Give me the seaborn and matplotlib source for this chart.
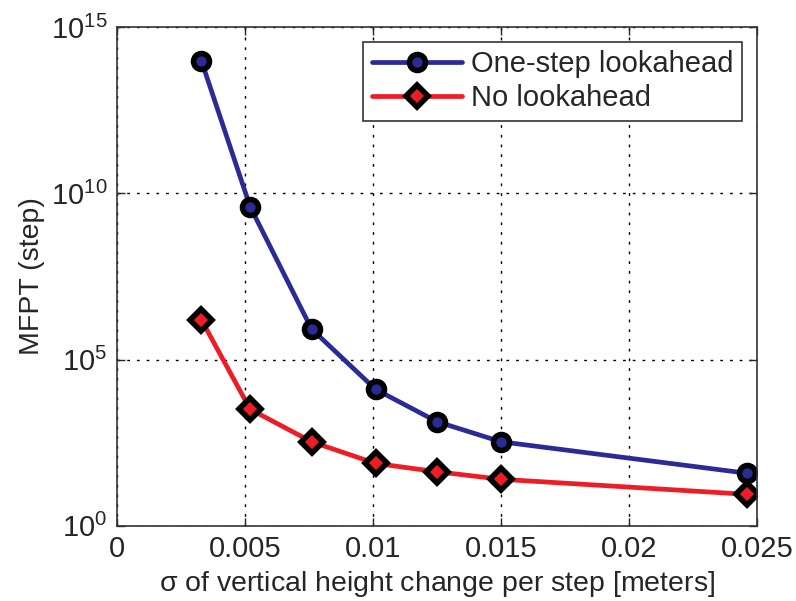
import numpy as np
import pandas as pd
import matplotlib
matplotlib.use('Agg')
import matplotlib.pyplot as plt
from matplotlib.lines import Line2D
import seaborn as sns

# --- data ---
sigma = [0.0033, 0.0052, 0.0076, 0.0101, 0.0125, 0.0150, 0.0246]
mfpt_lookahead = [9.6e13, 4.0e9, 8.3e5, 1.27e4, 1.35e3, 336, 38]
mfpt_no_lookahead = [1.55e6, 3.2e3, 336, 75, 42, 25, 8.8]
series_names = ['One-step lookahead', 'No lookahead']

blue = '#2b2b98'
red = '#ee1c25'

df = pd.concat([
    pd.DataFrame({'sigma': sigma, 'MFPT': mfpt_lookahead, 'Method': series_names[0]}),
    pd.DataFrame({'sigma': sigma, 'MFPT': mfpt_no_lookahead, 'Method': series_names[1]}),
])

sns.set_style('ticks')
plt.rcParams['font.family'] = ['Liberation Sans', 'DejaVu Sans']
plt.rcParams['mathtext.fontset'] = 'custom'
plt.rcParams['mathtext.rm'] = 'Liberation Sans'
plt.rcParams['mathtext.it'] = 'Liberation Sans'

fig = plt.figure(figsize=(7.96, 6.01), dpi=100)
ax = fig.add_axes([0.147, 0.1253, 0.804, 0.8293])

palette = {series_names[0]: blue, series_names[1]: red}
markers = {series_names[0]: 'o', series_names[1]: 'D'}
line_kws = dict(linewidth=3.4, markersize=11.5, markeredgecolor='black', markeredgewidth=4)
sns.lineplot(ax=ax, data=df, x='sigma', y='MFPT', hue='Method', style='Method',
             palette=palette, markers=markers, dashes=False, legend=False, **line_kws)

ax.set_yscale('log')
ax.set_xlim(0, 0.025)
ax.set_ylim(1, 1e15)
ax.set_xticks([0, 0.005, 0.01, 0.015, 0.02, 0.025])
ax.set_xticklabels(['0', '0.005', '0.01', '0.015', '0.02', '0.025'])
ax.set_yticks([1, 1e5, 1e10, 1e15])
ax.minorticks_off()
ax.tick_params(direction='in', length=6, width=1, labelsize=21, top=True, right=True, pad=7)

ax.grid(True, color='black', linestyle=(0, (2, 5)), linewidth=1)
for s in ax.spines.values():
    s.set_linewidth(1.2)
    s.set_color('#333333')

ax.set_xlabel(r'$\sigma$ of vertical height change per step [meters]', fontsize=20.5, labelpad=4)
ax.set_ylabel('MFPT (step)', fontsize=20.5, labelpad=4)

legend_elements = [
    Line2D([0], [0], color=blue, marker='o', markerfacecolor=blue, label=series_names[0], **line_kws),
    Line2D([0], [0], color=red, marker='D', markerfacecolor=red, label=series_names[1], **line_kws),
]
leg = ax.legend(handles=legend_elements, loc='upper right', bbox_to_anchor=(0.977, 0.971),
                borderaxespad=0, fontsize=21, fancybox=False, framealpha=1,
                edgecolor='#333333', handlelength=3.1, handletextpad=0.3,
                labelspacing=0.2, borderpad=0.3)
leg.get_frame().set_linewidth(1.2)

fig.savefig('out.png', dpi=100)
